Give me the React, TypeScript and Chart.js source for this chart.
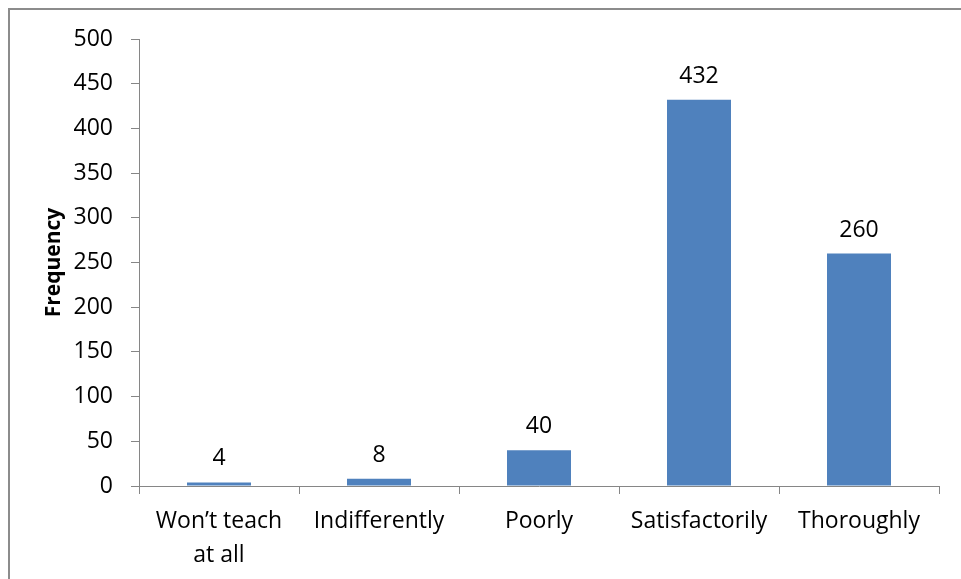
import React, { useEffect, useRef } from "react";
import { Chart, registerables } from "chart.js";

Chart.register(...registerables);

const categories: (string | string[])[] = [
  ["Won\u2019t teach", "at all"],
  "Indifferently",
  "Poorly",
  "Satisfactorily",
  "Thoroughly",
];
const frequencies = [4, 8, 40, 432, 260];
const yMin = 0;
const yMax = 500;
const yStep = 50;
const yTitle = "Frequency";

const FONT = "'Open Sans', sans-serif";
const AXIS_COLOR = "#868686";
const BAR_COLOR = "#4F81BD";

const valueLabels = {
  id: "valueLabels",
  afterDatasetsDraw(chart: any) {
    const ctx = chart.ctx;
    const meta = chart.getDatasetMeta(0);
    ctx.save();
    ctx.font = `23px ${FONT}`;
    ctx.fillStyle = "#000";
    ctx.textAlign = "center";
    ctx.textBaseline = "alphabetic";
    meta.data.forEach((bar: any, i: number) => {
      ctx.fillText(String(chart.data.datasets[0].data[i]), bar.x, bar.y - 17);
    });
    ctx.restore();
  },
};

export default function App() {
  const ref = useRef<HTMLCanvasElement | null>(null);

  useEffect(() => {
    let chart: Chart | null = null;
    let cancelled = false;
    const make = () => {
      if (cancelled || !ref.current) return;
      chart = new Chart(ref.current, {
        type: "bar",
        data: {
          labels: categories,
          datasets: [
            {
              data: frequencies,
              backgroundColor: BAR_COLOR,
              borderWidth: 0,
              barPercentage: 0.4,
              categoryPercentage: 1.0,
            },
          ],
        },
        options: {
          responsive: false,
          animation: false,
          layout: { padding: { top: 39, right: 22, bottom: 0, left: 0 } },
          plugins: {
            legend: { display: false },
            tooltip: { enabled: false },
          },
          scales: {
            x: {
              ticks: {
                color: "#000",
                font: { family: FONT, size: 23, lineHeight: 1.45 },
                padding: 11,
                maxRotation: 0,
                autoSkip: false,
              },
              grid: {
                drawOnChartArea: false,
                tickLength: 8,
                color: AXIS_COLOR,
                offset: true,
              },
              border: { color: AXIS_COLOR, width: 1 },
              afterFit: (s: any) => {
                s.height = 93;
              },
            },
            y: {
              min: yMin,
              max: yMax,
              ticks: {
                stepSize: yStep,
                padding: 18,
                color: "#000",
                font: { family: FONT, size: 23 },
              },
              grid: {
                drawOnChartArea: false,
                tickLength: 8,
                color: AXIS_COLOR,
              },
              border: { color: AXIS_COLOR, width: 1 },
              title: {
                display: true,
                text: yTitle,
                color: "#000",
                font: { family: FONT, size: 21, weight: "bold" },
                padding: { top: 41, bottom: 0 },
              },
              afterFit: (s: any) => {
                s.width = 139;
              },
            },
          },
        },
        plugins: [valueLabels],
      } as any);
    };
    const fonts = (document as any).fonts;
    if (fonts && fonts.load) {
      Promise.all([
        fonts.load(`23px 'Open Sans'`),
        fonts.load(`bold 21px 'Open Sans'`),
      ])
        .catch(() => {})
        .then(make);
    } else {
      make();
    }
    return () => {
      cancelled = true;
      if (chart) chart.destroy();
    };
  }, []);

  return (
    <div style={{ position: "fixed", left: 0, top: 0, width: 961, height: 579, background: "#fff", overflow: "hidden" }}>
      <div
        style={{
          position: "absolute",
          left: 8,
          top: 8,
          width: 1000,
          height: 1000,
          borderTop: "2px solid #8c8c8c",
          borderLeft: "2px solid #8c8c8c",
        }}
      />
      <canvas
        ref={ref}
        width={961}
        height={579}
        style={{ position: "absolute", left: 0, top: 0, width: 961, height: 579 }}
      />
    </div>
  );
}
